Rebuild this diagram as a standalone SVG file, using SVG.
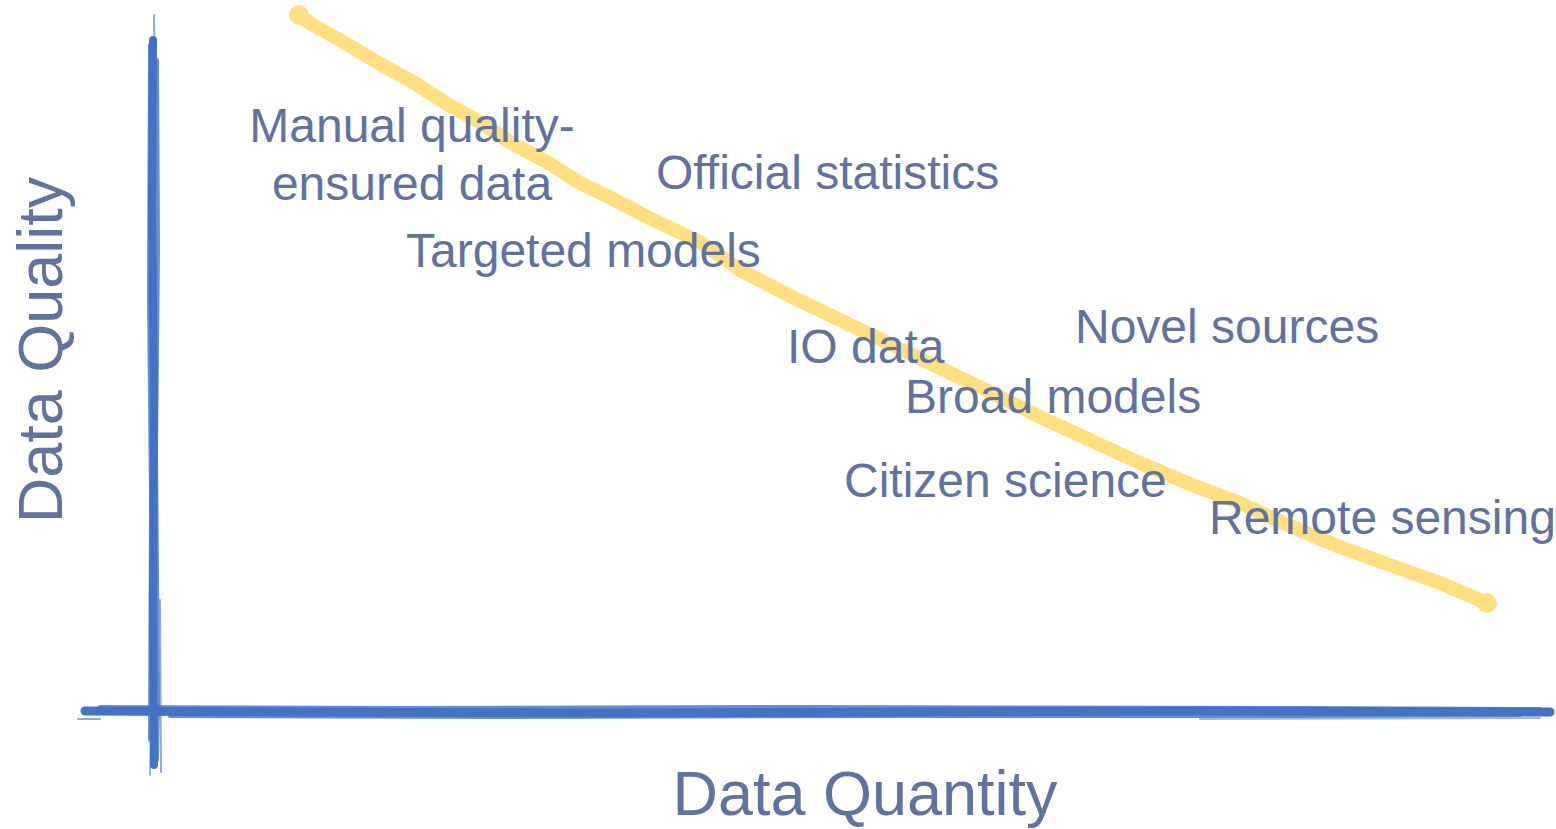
<svg xmlns="http://www.w3.org/2000/svg" width="1556" height="829" viewBox="0 0 1556 829">
<style>
.lbl{font-family:"Liberation Sans",Arial,sans-serif;font-size:48px;fill:#6171a0}
.ax{font-family:"Liberation Sans",Arial,sans-serif;font-size:63px;fill:#6171a0}
.brush{fill:none;stroke:#4472c4;stroke-linecap:round}
.trend{fill:none;stroke:#ffdf80;stroke-width:14;stroke-linecap:round;stroke-linejoin:round}
.blob{fill:#ffdf80}
</style>
<rect width="1556" height="829" fill="#fff"/>
<g id="axes">
  <g id="y-axis">
    <path class="brush" stroke-width="8" d="M153,40 L152,200 L154,400 L153,600 L154,765"/>
    <path class="brush" stroke-width="4" d="M150,45 L149,300 L151,500 L150,740" opacity="0.8"/>
    <path class="brush" stroke-width="4" d="M157,60 L158,250 L156,450 L158,700 L157,760" opacity="0.8"/>
    <path class="brush" stroke-width="2" d="M154,15 L155,120 L155,330" opacity="0.6"/>
    <path class="brush" stroke-width="2" d="M160,600 L161,772" opacity="0.6"/>
    <path class="brush" stroke-width="1.5" d="M151,720 L150,775" opacity="0.7"/>
  </g>
  <g id="x-axis">
    <path class="brush" stroke-width="9" d="M85,711 L300,712 L600,713 L900,712 L1200,711 L1550,712"/>
    <path class="brush" stroke-width="4" d="M100,707 L400,708 L800,707 L1300,708 L1540,709" opacity="0.8"/>
    <path class="brush" stroke-width="4" d="M170,716 L500,717 L900,716 L1300,716 L1520,715" opacity="0.8"/>
    <path class="brush" stroke-width="2" d="M78,719 L100,719" opacity="0.6"/>
    <path class="brush" stroke-width="2" d="M1200,719 L1540,718" opacity="0.5"/>
  </g>
</g>
<g id="connectors">
  <path id="trend-line" class="trend" d="M299,15 L313,25 L347,44 L380,64 L413,82 L447,104 L480,122 L513,144 L547,162 L580,183 L613,199 L647,217 L700,242 L740,270 L790,296 L840,320 L890,344 L940,368 L990,392 L1040,417 L1090,440 L1140,463 L1190,484 L1240,503 L1290,526 L1340,547 L1390,565 L1440,583 L1487,603"/>
  <circle class="blob" cx="299" cy="15" r="10"/>
  <circle class="blob" cx="1487" cy="603" r="10"/>
</g>
<g id="node-manual"><text class="lbl" x="412" y="142" text-anchor="middle"><tspan x="412">Manual quality-</tspan><tspan x="412" y="200">ensured data</tspan></text></g>
<g id="node-official"><text class="lbl" x="656" y="189">Official statistics</text></g>
<g id="node-targeted"><text class="lbl" x="406" y="267">Targeted models</text></g>
<g id="node-io"><text class="lbl" x="787" y="363">IO data</text></g>
<g id="node-novel"><text class="lbl" x="1075" y="343">Novel sources</text></g>
<g id="node-broad"><text class="lbl" x="905" y="413">Broad models</text></g>
<g id="node-citizen"><text class="lbl" x="844" y="497">Citizen science</text></g>
<g id="node-remote"><text class="lbl" x="1209" y="534">Remote sensing</text></g>
<g id="label-y"><text class="ax" transform="translate(62,350) rotate(-90)" text-anchor="middle">Data Quality</text></g>
<g id="label-x"><text class="ax" x="865" y="815" text-anchor="middle">Data Quantity</text></g>
</svg>
